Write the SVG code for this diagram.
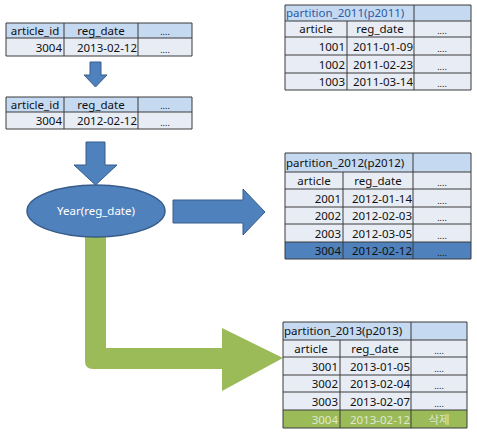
<svg xmlns="http://www.w3.org/2000/svg" width="477" height="438" viewBox="0 0 477 438">
<style>
text{font-family:"Noto Sans","Noto Sans CJK KR",sans-serif;font-size:11.5px;fill:#111}
.hd{fill:#c5d9f1}
.dt{fill:#e8edf5}
.ln{stroke:#3a3a3a;stroke-width:1;fill:none}
.c{text-anchor:middle}
.r{text-anchor:end}
.dots{font-size:9px}
.w{fill:#dfe8cf}
</style>
<rect width="477" height="438" fill="#fff"/>
<g id="connectors">
<path d="M85,225 H106 V348 H222 V328 L283,358 L222,391 V369 H93 Q85,369 85,361 Z" fill="#9bbb59"/>
<polygon points="90,62 101,62 101,75 107,75 95.5,87 84,75 90,75" fill="#4f81bd" stroke="#385d8a" stroke-width="1"/>
<polygon points="86,142 105,142 105,165 117,165 95.5,185 74,165 86,165" fill="#4f81bd" stroke="#385d8a" stroke-width="1"/>
<polygon points="173,200 243,200 243,189 265,212 243,235 243,223 173,223" fill="#4f81bd" stroke="#385d8a" stroke-width="1"/>
</g>
<g id="year-node">
<ellipse cx="96" cy="211" rx="69" ry="26" fill="#4f81bd" stroke="#385d8a" stroke-width="1.5"/>
<text x="96" y="215" class="c" style="fill:#fff">Year(reg_date)</text>
</g>
<g id="table-before">
<rect x="6" y="23" width="186" height="15" class="hd"/>
<rect x="6" y="38" width="186" height="18" class="dt"/>
<path class="ln" d="M6,23 H192 V56 H6 Z M6,38 H192 M64,23 V56 M138,23 V56"/>
<text x="35" y="35" class="c">article_id</text>
<text x="101" y="35" class="c">reg_date</text>
<text x="165" y="35" class="c dots">....</text>
<text x="62" y="52" class="r">3004</text>
<text x="137" y="52" class="r">2013-02-12</text>
<text x="165" y="53" class="c dots">....</text>
</g>
<g id="table-after">
<rect x="6" y="97" width="186" height="15" class="hd"/>
<rect x="6" y="112" width="186" height="17" class="dt"/>
<path class="ln" d="M6,97 H192 V129 H6 Z M6,112 H192 M64,97 V129 M138,97 V129"/>
<text x="35" y="109" class="c">article_id</text>
<text x="101" y="109" class="c">reg_date</text>
<text x="165" y="109" class="c dots">....</text>
<text x="62" y="125" class="r">3004</text>
<text x="137" y="125" class="r">2012-02-12</text>
<text x="165" y="126" class="c dots">....</text>
</g>
<g id="p2011">
<rect x="285" y="5" width="186" height="16" class="hd"/>
<rect x="285" y="21" width="186" height="69" class="dt"/>
<path class="ln" d="M285,5 H471 V90 H285 Z M285,21 H471 M285,37 H471 M285,55 H471 M285,73 H471 M414,5 V90 M347,21 V90"/>
<text x="286" y="17" style="fill:#2b5aa8">partition_2011(p2011)</text>
<text x="316" y="33" class="c">article</text>
<text x="380" y="33" class="c">reg_date</text>
<text x="442" y="34" class="c dots">....</text>
<text x="345" y="51" class="r">1001</text>
<text x="413" y="51" class="r">2011-01-09</text>
<text x="442" y="52" class="c dots">....</text>
<text x="345" y="69" class="r">1002</text>
<text x="413" y="69" class="r">2011-02-23</text>
<text x="442" y="70" class="c dots">....</text>
<text x="345" y="86" class="r">1003</text>
<text x="413" y="86" class="r">2011-03-14</text>
<text x="442" y="87" class="c dots">....</text>
</g>
<g id="p2012">
<rect x="285" y="153" width="186" height="19" class="hd"/>
<rect x="285" y="172" width="186" height="70" class="dt"/>
<rect x="285" y="242" width="186" height="17" fill="#4f81bd"/>
<path class="ln" d="M285,153 H471 V259 H285 Z M285,172 H471 M285,189 H471 M285,207 H471 M285,224 H471 M285,242 H471 M413,153 V259 M343,172 V259"/>
<text x="286" y="167">partition_2012(p2012)</text>
<text x="314" y="185" class="c">article</text>
<text x="378" y="185" class="c">reg_date</text>
<text x="442" y="186" class="c dots">....</text>
<text x="341" y="203" class="r">2001</text>
<text x="412" y="203" class="r">2012-01-14</text>
<text x="442" y="204" class="c dots">....</text>
<text x="341" y="220" class="r">2002</text>
<text x="412" y="220" class="r">2012-02-03</text>
<text x="442" y="221" class="c dots">....</text>
<text x="341" y="238" class="r">2003</text>
<text x="412" y="238" class="r">2012-03-05</text>
<text x="442" y="239" class="c dots">....</text>
<text x="341" y="255" class="r">3004</text>
<text x="412" y="255" class="r">2012-02-12</text>
<text x="442" y="256" class="c dots">....</text>
</g>
<g id="p2013">
<rect x="283" y="322" width="184" height="18" class="hd"/>
<rect x="283" y="340" width="184" height="70" class="dt"/>
<rect x="283" y="410" width="184" height="18" fill="#9bbb59"/>
<path class="ln" d="M283,322 H467 V428 H283 Z M283,340 H467 M283,357 H467 M283,375 H467 M283,392 H467 M283,410 H467 M411,322 V428 M340,340 V428"/>
<text x="284" y="335">partition_2013(p2013)</text>
<text x="311" y="353" class="c">article</text>
<text x="375" y="353" class="c">reg_date</text>
<text x="439" y="354" class="c dots">....</text>
<text x="338" y="371" class="r">3001</text>
<text x="410" y="371" class="r">2013-01-05</text>
<text x="439" y="372" class="c dots">....</text>
<text x="338" y="388" class="r">3002</text>
<text x="410" y="388" class="r">2013-02-04</text>
<text x="439" y="389" class="c dots">....</text>
<text x="338" y="406" class="r">3003</text>
<text x="410" y="406" class="r">2013-02-07</text>
<text x="439" y="407" class="c dots">....</text>
<text x="338" y="424" class="r w">3004</text>
<text x="410" y="424" class="r w">2013-02-12</text>
<text x="439" y="424" class="c w">삭제</text>
</g>
</svg>
